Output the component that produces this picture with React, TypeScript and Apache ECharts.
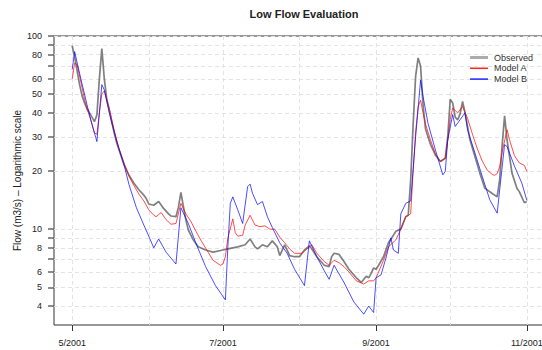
import React, { useEffect, useRef } from "react";
import * as echarts from "echarts";

// Daily streamflow (m3/s), observed vs. two models, May–October 2001.
const observed: [string, number][] = [
  ["2001-05-01", 89], ["2001-05-02", 78], ["2001-05-03", 66], ["2001-05-04", 56],
  ["2001-05-05", 49], ["2001-05-06", 45], ["2001-05-07", 42], ["2001-05-08", 40],
  ["2001-05-09", 38], ["2001-05-10", 36], ["2001-05-11", 39], ["2001-05-12", 60],
  ["2001-05-13", 86], ["2001-05-14", 60], ["2001-05-15", 47], ["2001-05-16", 41.5],
  ["2001-05-17", 36], ["2001-05-18", 31.5], ["2001-05-19", 28], ["2001-05-21", 23.5],
  ["2001-05-22", 21.5], ["2001-05-24", 19], ["2001-05-26", 17.3], ["2001-05-28", 16],
  ["2001-05-30", 15], ["2001-05-31", 14.4], ["2001-06-01", 13.5], ["2001-06-03", 13.3],
  ["2001-06-05", 13.9], ["2001-06-07", 12.8], ["2001-06-09", 12], ["2001-06-10", 11.7],
  ["2001-06-12", 11.6], ["2001-06-13", 13], ["2001-06-14", 15.5], ["2001-06-15", 13.1],
  ["2001-06-16", 11.2], ["2001-06-17", 9.9], ["2001-06-19", 8.8], ["2001-06-21", 8.1],
  ["2001-06-24", 7.8], ["2001-06-27", 7.6], ["2001-07-01", 7.8], ["2001-07-04", 7.95],
  ["2001-07-07", 8.1], ["2001-07-10", 8.3], ["2001-07-12", 8.9], ["2001-07-14", 8.1],
  ["2001-07-15", 7.9], ["2001-07-17", 8.3], ["2001-07-19", 8.1], ["2001-07-21", 8.7],
  ["2001-07-23", 8.1], ["2001-07-24", 7.3], ["2001-07-26", 8.3], ["2001-07-28", 7.3],
  ["2001-07-30", 7.2], ["2001-08-01", 7.2], ["2001-08-03", 7.8], ["2001-08-05", 8.2],
  ["2001-08-06", 7.9], ["2001-08-08", 7.2], ["2001-08-11", 6.5], ["2001-08-13", 6.4],
  ["2001-08-14", 7.2], ["2001-08-15", 7.5], ["2001-08-17", 7.4], ["2001-08-19", 6.8],
  ["2001-08-21", 6.2], ["2001-08-24", 5.6], ["2001-08-26", 5.3], ["2001-08-28", 5.7],
  ["2001-08-29", 5.6], ["2001-08-30", 5.9], ["2001-08-31", 6.3], ["2001-09-01", 6.2],
  ["2001-09-02", 6.5], ["2001-09-04", 7.2], ["2001-09-06", 8.5], ["2001-09-08", 9.3],
  ["2001-09-09", 9.75], ["2001-09-11", 10], ["2001-09-13", 11.6], ["2001-09-14", 11.8],
  ["2001-09-15", 18], ["2001-09-16", 35], ["2001-09-17", 62], ["2001-09-18", 77],
  ["2001-09-19", 70], ["2001-09-20", 44], ["2001-09-21", 33], ["2001-09-23", 27.5],
  ["2001-09-25", 24.2], ["2001-09-27", 22.4], ["2001-09-29", 23.3], ["2001-09-30", 30],
  ["2001-10-01", 47], ["2001-10-02", 45], ["2001-10-03", 38], ["2001-10-04", 36.8],
  ["2001-10-05", 39.5], ["2001-10-06", 45.9], ["2001-10-07", 40], ["2001-10-09", 29],
  ["2001-10-11", 23.8], ["2001-10-13", 19.5], ["2001-10-15", 16.3], ["2001-10-18", 15.3],
  ["2001-10-20", 14.7], ["2001-10-21", 18], ["2001-10-22", 27], ["2001-10-23", 38.6],
  ["2001-10-24", 29], ["2001-10-26", 19.5], ["2001-10-28", 16.3], ["2001-10-29", 15.6],
  ["2001-10-31", 13.7], ["2001-11-01", 13.9],
];

const modelA: [string, number][] = [
  ["2001-05-01", 60], ["2001-05-02", 72.5], ["2001-05-03", 71], ["2001-05-04", 62],
  ["2001-05-05", 54], ["2001-05-06", 47], ["2001-05-07", 42], ["2001-05-08", 38.5],
  ["2001-05-09", 35], ["2001-05-10", 31.5], ["2001-05-11", 31], ["2001-05-12", 40],
  ["2001-05-13", 50], ["2001-05-14", 52], ["2001-05-15", 47], ["2001-05-16", 42],
  ["2001-05-17", 37], ["2001-05-18", 32.5], ["2001-05-20", 26], ["2001-05-22", 22],
  ["2001-05-24", 18.8], ["2001-05-26", 16.8], ["2001-05-28", 15.2], ["2001-05-30", 14],
  ["2001-06-01", 12.6], ["2001-06-03", 11.8], ["2001-06-04", 11.6], ["2001-06-06", 12.2],
  ["2001-06-08", 11.2], ["2001-06-10", 10.6], ["2001-06-12", 10.7], ["2001-06-14", 13.6],
  ["2001-06-16", 12], ["2001-06-18", 11], ["2001-06-20", 9.8], ["2001-06-22", 8.8],
  ["2001-06-25", 7.6], ["2001-06-27", 6.9], ["2001-06-30", 6.5], ["2001-07-01", 6.6],
  ["2001-07-02", 7.2], ["2001-07-03", 9], ["2001-07-05", 11.3], ["2001-07-06", 9.6],
  ["2001-07-07", 9.2], ["2001-07-09", 9.3], ["2001-07-10", 10.5], ["2001-07-12", 11.8],
  ["2001-07-14", 10.5], ["2001-07-16", 10.3], ["2001-07-18", 10.4], ["2001-07-20", 10],
  ["2001-07-22", 10], ["2001-07-24", 9.1], ["2001-07-26", 8.5], ["2001-07-28", 7.9],
  ["2001-07-30", 7.5], ["2001-08-02", 7.5], ["2001-08-04", 7.9], ["2001-08-06", 8.3],
  ["2001-08-08", 7.5], ["2001-08-11", 6.8], ["2001-08-13", 6.5], ["2001-08-15", 6.9],
  ["2001-08-17", 6.7], ["2001-08-19", 6.4], ["2001-08-21", 6.0], ["2001-08-24", 5.4],
  ["2001-08-27", 5.2], ["2001-08-29", 5.4], ["2001-08-31", 5.4], ["2001-09-01", 5.6],
  ["2001-09-02", 6.0], ["2001-09-04", 6.9], ["2001-09-06", 8.1], ["2001-09-09", 8.8],
  ["2001-09-11", 10], ["2001-09-13", 11.6], ["2001-09-15", 12], ["2001-09-16", 20],
  ["2001-09-17", 32], ["2001-09-18", 43], ["2001-09-19", 46.5], ["2001-09-20", 40],
  ["2001-09-21", 35], ["2001-09-23", 29], ["2001-09-25", 24.5], ["2001-09-27", 22.4],
  ["2001-09-29", 23.3], ["2001-09-30", 29], ["2001-10-01", 37], ["2001-10-02", 42.4],
  ["2001-10-04", 40], ["2001-10-06", 43.2], ["2001-10-08", 37.5], ["2001-10-10", 31],
  ["2001-10-12", 26], ["2001-10-14", 22.5], ["2001-10-16", 20.2], ["2001-10-18", 19.2],
  ["2001-10-19", 19], ["2001-10-20", 19.4], ["2001-10-21", 21], ["2001-10-22", 25],
  ["2001-10-24", 32.7], ["2001-10-25", 29], ["2001-10-27", 24], ["2001-10-29", 22],
  ["2001-10-31", 21.4], ["2001-11-01", 19.9],
];

const modelB: [string, number][] = [
  ["2001-05-01", 67], ["2001-05-02", 83], ["2001-05-04", 64], ["2001-05-07", 44],
  ["2001-05-09", 35], ["2001-05-11", 28.4], ["2001-05-13", 56], ["2001-05-14", 52.6],
  ["2001-05-16", 40], ["2001-05-19", 28.5], ["2001-05-22", 21.5], ["2001-05-24", 17],
  ["2001-05-27", 12.9], ["2001-05-30", 10.5], ["2001-06-01", 9.2], ["2001-06-03", 8.0],
  ["2001-06-05", 8.9], ["2001-06-08", 7.6], ["2001-06-12", 6.6], ["2001-06-14", 12.9],
  ["2001-06-17", 10.7], ["2001-06-20", 8.5], ["2001-06-24", 6.4], ["2001-06-28", 5.1],
  ["2001-07-02", 4.3], ["2001-07-03", 8.1], ["2001-07-04", 13.6], ["2001-07-05", 14.7],
  ["2001-07-07", 12.6], ["2001-07-09", 10.7], ["2001-07-11", 16.6], ["2001-07-12", 17.1],
  ["2001-07-13", 15.3], ["2001-07-15", 13.4], ["2001-07-17", 13.9], ["2001-07-19", 11.6],
  ["2001-07-21", 10.2], ["2001-07-24", 8.5], ["2001-07-27", 7.5], ["2001-07-30", 6.2],
  ["2001-08-03", 5.1], ["2001-08-05", 8.7], ["2001-08-08", 7.2], ["2001-08-11", 6.1],
  ["2001-08-13", 5.5], ["2001-08-15", 6.5], ["2001-08-19", 5.3], ["2001-08-23", 4.2],
  ["2001-08-27", 3.63], ["2001-08-29", 4.0], ["2001-08-31", 3.7], ["2001-09-01", 5.6],
  ["2001-09-03", 5.8], ["2001-09-05", 7.1], ["2001-09-07", 9.0], ["2001-09-08", 7.8],
  ["2001-09-10", 7.5], ["2001-09-11", 12], ["2001-09-13", 13.6], ["2001-09-15", 14],
  ["2001-09-17", 30], ["2001-09-19", 59], ["2001-09-20", 48.7], ["2001-09-22", 35.4],
  ["2001-09-25", 25.7], ["2001-09-28", 19.1], ["2001-09-29", 19.9], ["2001-09-30", 29],
  ["2001-10-02", 39.2], ["2001-10-03", 34], ["2001-10-04", 35.4], ["2001-10-07", 40],
  ["2001-10-08", 32.7], ["2001-10-11", 24.8], ["2001-10-14", 18.7], ["2001-10-17", 14.2],
  ["2001-10-20", 12.1], ["2001-10-23", 27.4], ["2001-10-24", 26.8], ["2001-10-27", 21.2],
  ["2001-10-30", 17.3], ["2001-11-01", 14.1],
];

// Axis ticks
const yTickValues = [4, 5, 6, 7, 8, 9, 10, 20, 30, 40, 50, 60, 70, 80, 90, 100];
const yLabelValues = [4, 5, 6, 8, 10, 20, 30, 40, 50, 60, 80, 100];
const xLabelMonths = ["2001-05-01", "2001-07-01", "2001-09-01", "2001-11-01"];
const xGridMonths = [
  "2001-05-01", "2001-06-01", "2001-07-01", "2001-08-01",
  "2001-09-01", "2001-10-01", "2001-11-01",
];

const DAY = 86400000;
const toTime = (s: string) => {
  const [y, m, d] = s.split("-").map(Number);
  return new Date(y, m - 1, d).getTime();
};
const toPoints = (rows: [string, number][]) => rows.map(([d, v]) => [toTime(d), v]);
const seasonStart = toTime("2001-05-01");
// Time range padded ~4% on each side of the data span
const xMin = seasonStart - 7.36 * DAY;
const xMax = seasonStart + 191.36 * DAY;

const gridLine = { color: "#e3e3e3", width: 1, type: [4, 3] as number[] };

const OBS = "rgba(60,60,60,0.65)";
const RED = "rgba(255,0,0,0.7)";
const BLUE = "rgba(0,0,255,0.7)";

export default function App() {
  const ref = useRef<HTMLDivElement>(null);

  useEffect(() => {
    if (!ref.current) return;
    const chart = echarts.init(ref.current, undefined, { renderer: "svg" });
    chart.setOption({
      animation: false,
      textStyle: { fontFamily: "Liberation Sans, Arial, sans-serif" },
      title: {
        text: "Low Flow Evaluation",
        left: 299,
        top: 3,
        textAlign: "center",
        textStyle: { fontSize: 11, fontWeight: "bold", color: "#222" },
      },
      legend: {
        orient: "vertical",
        left: 465,
        top: 48,
        itemWidth: 18,
        itemHeight: 11,
        itemGap: 1.8,
        textStyle: { fontSize: 9, color: "#333", padding: [0, 0, 0, 1] },
        data: [
          { name: "Observed", icon: "path://M0 0H6V1H0Z", itemStyle: { color: "#acacac" } },
          { name: "Model A", icon: "path://M0 0H12V1H0Z", itemStyle: { color: "#ff2020" } },
          { name: "Model B", icon: "path://M0 0H12V1H0Z", itemStyle: { color: "#2020ff" } },
        ],
      },
      grid: {
        left: 54,
        top: 36,
        right: -3,
        bottom: 25,
        show: true,
        borderColor: "#333",
        borderWidth: 1,
        outerBoundsMode: "none",
      },
      xAxis: [
        {
          type: "value",
          min: xMin,
          max: xMax,
          axisLine: { show: false },
          axisTick: {
            show: true,
            length: 6,
            customValues: xLabelMonths.map(toTime),
            lineStyle: { color: "#333" },
          },
          axisLabel: {
            customValues: xLabelMonths.map(toTime),
            fontSize: 9,
            color: "#222",
            margin: 13,
            formatter: (v: number) => {
              const d = new Date(v);
              return `${d.getMonth() + 1}/${d.getFullYear()}`;
            },
          },
          splitLine: { show: false },
        },
        {
          type: "value",
          min: xMin,
          max: xMax,
          axisLine: { show: false },
          axisTick: { show: false, customValues: xGridMonths.map(toTime) },
          axisLabel: { show: false },
          splitLine: { show: true, lineStyle: gridLine },
        },
      ],
      yAxis: {
        type: "log",
        logBase: 10,
        min: 3.19,
        max: 100,
        name: "Flow (m3/s) \u2013 Logarithmic scale",
        nameLocation: "middle",
        nameGap: 32,
        nameMoveOverlap: false,
        nameTextStyle: { fontSize: 10, color: "#222" },
        axisLine: { show: false },
        axisTick: {
          show: true,
          length: 6,
          customValues: yTickValues,
          lineStyle: { color: "#666", width: 1.5 },
        },
        axisLabel: {
          customValues: yLabelValues,
          fontSize: 9,
          color: "#222",
          margin: 12,
        },
        splitLine: { show: true, lineStyle: gridLine },
      },
      series: [
        {
          name: "Observed",
          type: "line",
          symbol: "none",
          data: toPoints(observed),
          lineStyle: { color: OBS, width: 1.7 },
          itemStyle: { color: OBS },
        },
        {
          name: "Model A",
          type: "line",
          symbol: "none",
          data: toPoints(modelA),
          lineStyle: { color: RED, width: 1 },
          itemStyle: { color: RED },
        },
        {
          name: "Model B",
          type: "line",
          symbol: "none",
          data: toPoints(modelB),
          lineStyle: { color: BLUE, width: 1 },
          itemStyle: { color: BLUE },
        },
      ],
    });
    return () => chart.dispose();
  }, []);

  return (
    <div
      ref={ref}
      style={{ position: "absolute", left: 0, top: 0, width: 542, height: 350, background: "#fff" }}
    />
  );
}
